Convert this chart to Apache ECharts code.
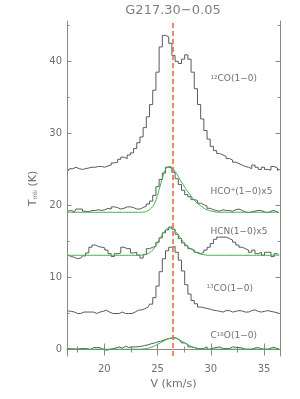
<!DOCTYPE html>
<html><head><meta charset="utf-8">
<script src="https://cdn.jsdelivr.net/npm/echarts@6/dist/echarts.min.js"></script>
<style>html,body{margin:0;padding:0;background:#fff}#c{width:300px;height:399px}</style>
</head><body><div id="c"></div>
<script>
// ---- data ----
const velocity = [16.6,16.9,17.2,17.5,17.8,18.1,18.4,18.7,19.0,19.3,19.6,19.9,20.2,20.5,20.8,21.1,21.4,21.7,22.0,22.3,22.6,22.9,23.2,23.5,23.8,24.1,24.4,24.7,25.0,25.3,25.6,25.9,26.2,26.5,26.8,27.1,27.4,27.7,28.0,28.3,28.6,28.9,29.2,29.5,29.8,30.1,30.4,30.7,31.0,31.3,31.6,31.9,32.2,32.5,32.8,33.1,33.4,33.7,34.0,34.3,34.6,34.9,35.2,35.5,35.8,36.1,36.4];
const co12 = [24.8,25.1,25.3,25.1,25.0,25.1,25.2,25.3,25.3,25.4,25.4,25.3,25.5,25.6,25.9,26.0,26.4,26.7,26.5,27.0,27.3,27.9,28.7,29.5,30.8,32.3,34.0,36.0,38.5,42.0,43.6,43.4,42.5,40.8,40.0,39.7,40.3,40.9,40.3,38.5,36.2,34.0,32.0,30.4,29.2,28.2,27.6,27.2,27.0,26.8,26.5,26.3,26.0,25.8,25.6,25.4,25.3,25.1,25.6,25.3,25.0,25.3,25.0,24.9,25.4,25.2,24.9];
const hcop = [19.2,19.3,19.1,19.5,19.5,19.2,19.1,19.3,19.3,19.4,19.3,19.4,19.6,19.5,19.8,19.7,19.5,19.6,19.8,19.8,19.7,19.5,19.5,19.7,19.9,20.2,20.6,21.4,22.6,23.6,24.5,25.3,25.2,24.6,23.7,22.9,22.1,21.5,21.2,20.8,20.7,20.3,20.1,19.9,19.6,19.4,19.3,19.2,19.4,19.3,19.3,19.2,19.4,19.5,19.3,19.1,19.0,19.1,19.2,19.3,19.3,19.1,19.0,19.2,19.3,19.1,19.0];
const hcopFit = [19.05,19.05,19.05,19.05,19.05,19.05,19.05,19.05,19.05,19.05,19.05,19.05,19.05,19.05,19.05,19.05,19.05,19.05,19.05,19.05,19.05,19.05,19.05,19.06,19.1,19.25,19.6,20.2,21.4,23.0,24.5,25.3,25.4,25.0,24.4,23.6,22.9,22.2,21.6,21.0,20.5,20.1,19.8,19.5,19.3,19.2,19.1,19.05,19.05,19.05,19.05,19.05,19.05,19.05,19.05,19.05,19.05,19.05,19.05,19.05,19.05,19.05,19.05,19.05,19.05,19.05,19.05];
const hcn = [13.1,12.9,12.8,12.6,12.7,13.0,13.4,14.2,14.5,14.3,14.2,14.1,13.8,13.3,12.9,13.3,13.4,14.2,14.0,14.0,13.4,13.5,13.1,12.7,13.2,14.0,14.2,14.3,14.9,15.5,16.2,16.6,17.0,16.7,16.0,15.4,14.8,14.4,14.0,13.8,13.5,13.3,13.5,13.8,14.2,14.7,15.3,15.6,15.6,15.6,15.4,15.2,14.9,14.5,14.2,14.0,13.8,13.5,13.8,13.3,13.5,13.1,13.5,13.5,12.9,13.3,13.1];
const hcnFit = [13.08,13.08,13.08,13.08,13.08,13.08,13.08,13.08,13.08,13.08,13.08,13.08,13.08,13.08,13.08,13.08,13.08,13.08,13.08,13.08,13.08,13.08,13.08,13.1,13.15,13.3,13.6,14.1,14.8,15.6,16.3,16.8,16.9,16.7,16.2,15.6,15.0,14.5,14.1,13.8,13.5,13.3,13.2,13.12,13.08,13.08,13.08,13.08,13.08,13.08,13.08,13.08,13.08,13.08,13.08,13.08,13.08,13.08,13.08,13.08,13.08,13.08,13.08,13.08,13.08,13.08,13.08];
const co13 = [5.35,5.3,5.2,5.0,5.0,5.2,5.2,5.2,5.2,5.0,5.2,5.3,5.45,5.2,5.0,5.0,5.0,5.2,5.0,5.0,5.0,5.2,5.45,5.5,5.65,5.85,6.3,7.2,8.8,10.8,12.6,13.7,14.2,14.3,13.5,12.4,10.9,9.0,7.7,6.8,6.35,5.9,5.8,5.7,5.6,5.45,5.4,5.3,5.2,5.4,5.4,5.2,5.3,5.4,5.35,5.2,5.2,5.4,5.5,5.3,5.2,5.3,5.4,5.3,5.2,5.1,5.0];
const c18o = [0.13,0.1,0.08,0.04,0.13,0.13,0.1,0.0,0.27,0.27,0.25,0.05,-0.1,0.0,0.13,0.2,0.36,0.2,0.45,0.3,0.36,0.36,0.4,0.45,0.55,0.65,0.8,0.9,1.05,1.15,1.3,1.45,1.55,1.66,1.57,1.3,0.92,0.69,0.36,0.27,0.13,0.13,0.15,0.36,0.05,0.2,0.27,0.36,0.13,0.13,0.13,0.36,0.3,0.27,0.2,0.04,0.04,0.04,0.2,0.27,0.1,0.04,0.04,0.2,0.3,0.13,0.13];
const c18oFit = [0.04,0.04,0.04,0.04,0.04,0.04,0.04,0.04,0.04,0.04,0.04,0.04,0.04,0.04,0.04,0.04,0.04,0.04,0.04,0.04,0.04,0.04,0.04,0.06,0.1,0.18,0.3,0.48,0.7,0.95,1.2,1.42,1.57,1.6,1.5,1.3,1.05,0.8,0.55,0.36,0.22,0.13,0.08,0.04,0.04,0.04,0.04,0.04,0.04,0.04,0.04,0.04,0.04,0.04,0.04,0.04,0.04,0.04,0.04,0.04,0.04,0.04,0.04,0.04,0.04,0.04,0.04];
const vlsr = 26.45;
const xMajorTicks = [20, 25, 30, 35];
const xMinorTicks = [17.5, 22.5, 27.5, 32.5];
const yMajorTicks = [0, 10, 20, 30, 40];
const yMinorTicks = [5, 15, 25, 35, 45];
const lineNames = ['{sup|12}CO(1\u22120)', 'HCO{sup|+}(1\u22120)x5', 'HCN(1\u22120)x5', '{sup|13}CO(1\u22120)', 'C{sup|18}O(1\u22120)'];
const titleText = 'G217.30\u22120.05';

// ---- layout / style ----
const FONT = 'DejaVu Sans';
const TXT = '#707070';
const AX = '#8a8a8a';
const SPEC = '#5a5a5a';
const FIT = '#45b24a';
const VCOL = '#e2663a';
const labelAnchors = [[29.98, 37.6], [29.98, 21.95], [29.98, 16.4], [29.6, 8.46], [29.98, 1.9]];

const pairs = arr => velocity.map((v, i) => [v, arr[i]]);
const X = {min: 16.5, max: 36.5};
const Y = {min: -0.9, max: 45.6};

function xAxisDef(pos, ticks, len, labels, line) {
  return {
    type: 'value', position: pos, min: X.min, max: X.max,
    axisLine: {show: line, lineStyle: {color: AX, width: 1}},
    axisTick: {show: true, inside: true, length: len, customValues: ticks, lineStyle: {color: AX}},
    axisLabel: labels ? {show: true, customValues: ticks, margin: 8, color: TXT, fontFamily: FONT, fontSize: 10} : {show: false},
    splitLine: {show: false}
  };
}
function yAxisDef(pos, ticks, len, labels, line) {
  return {
    type: 'value', position: pos, min: Y.min, max: Y.max,
    axisLine: {show: line, lineStyle: {color: AX, width: 1}},
    axisTick: {show: true, inside: true, length: len, customValues: ticks, lineStyle: {color: AX}},
    axisLabel: labels ? {show: true, customValues: ticks, margin: 5, color: TXT, fontFamily: FONT, fontSize: 10} : {show: false},
    splitLine: {show: false}
  };
}

const xAxes = [
  xAxisDef('bottom', xMajorTicks, 6, true, true),
  xAxisDef('bottom', xMinorTicks, 3, false, false),
  xAxisDef('top', xMajorTicks, 6, false, true),
  xAxisDef('top', xMinorTicks, 3, false, false)
];
xAxes[0].name = 'V (km/s)';
xAxes[0].nameLocation = 'middle';
xAxes[0].nameGap = 21;
xAxes[0].nameTextStyle = {color: TXT, fontFamily: FONT, fontSize: 11};

const yAxes = [
  yAxisDef('left', yMajorTicks, 4.5, true, true),
  yAxisDef('left', yMinorTicks, 2.5, false, false),
  yAxisDef('right', yMajorTicks, 4.5, false, true),
  yAxisDef('right', yMinorTicks, 2.5, false, false)
];
yAxes[0].name = 'T{sub|mb} (K)';
yAxes[0].nameLocation = 'middle';
yAxes[0].nameGap = 25;
yAxes[0].nameTextStyle = {color: TXT, fontFamily: FONT, fontSize: 11,
  rich: {sub: {fontSize: 6, color: TXT, fontFamily: FONT, verticalAlign: 'bottom'}}};

function spec(data) {
  return {type: 'line', step: 'middle', data: pairs(data), symbol: 'none', silent: true,
    lineStyle: {color: SPEC, width: 1}, z: 2, animation: false};
}
function fit(data) {
  return {type: 'line', smooth: 0.3, data: pairs(data), symbol: 'none', silent: true,
    lineStyle: {color: FIT, width: 1}, z: 3, animation: false};
}

const series = [spec(co12), spec(hcop), spec(hcn), spec(co13), spec(c18o),
  fit(hcopFit), fit(hcnFit), fit(c18oFit)];
series.push({
  type: 'line', data: [], symbol: 'none', z: 5, silent: true, animation: false,
  color: VCOL, itemStyle: {color: VCOL},
  markLine: {silent: true, symbol: ['none', 'none'], label: {show: false}, animation: false,
    emphasis: {disabled: true},
    lineStyle: {color: VCOL, width: 1.5, type: [5, 3], opacity: 1}, data: [{xAxis: vlsr}]}
});

const chart = echarts.init(document.getElementById('c'), null, {renderer: 'canvas'});
chart.setOption({
  backgroundColor: '#fff',
  animation: false,
  grid: {left: 67, right: 20, top: 21, bottom: 43, containLabel: false},
  xAxis: xAxes,
  yAxis: yAxes,
  series: series
});

const graphics = [{
  type: 'text', x: 173, y: 11, silent: true,
  style: {text: titleText, fill: '#808080', font: '13px "' + FONT + '"', textAlign: 'center', textVerticalAlign: 'middle'}
}];
lineNames.forEach((name, i) => {
  const p = chart.convertToPixel({xAxisIndex: 0, yAxisIndex: 0}, labelAnchors[i]);
  graphics.push({
    type: 'text', x: p[0], y: p[1], silent: true, z: 10,
    style: {text: name, fill: TXT, font: '9px "' + FONT + '"', textAlign: 'left', textVerticalAlign: 'middle',
      rich: {sup: {fontSize: 5.5, fill: TXT, fontFamily: FONT, verticalAlign: 'top'}}}
  });
});
chart.setOption({graphic: graphics});
</script>
</body></html>
